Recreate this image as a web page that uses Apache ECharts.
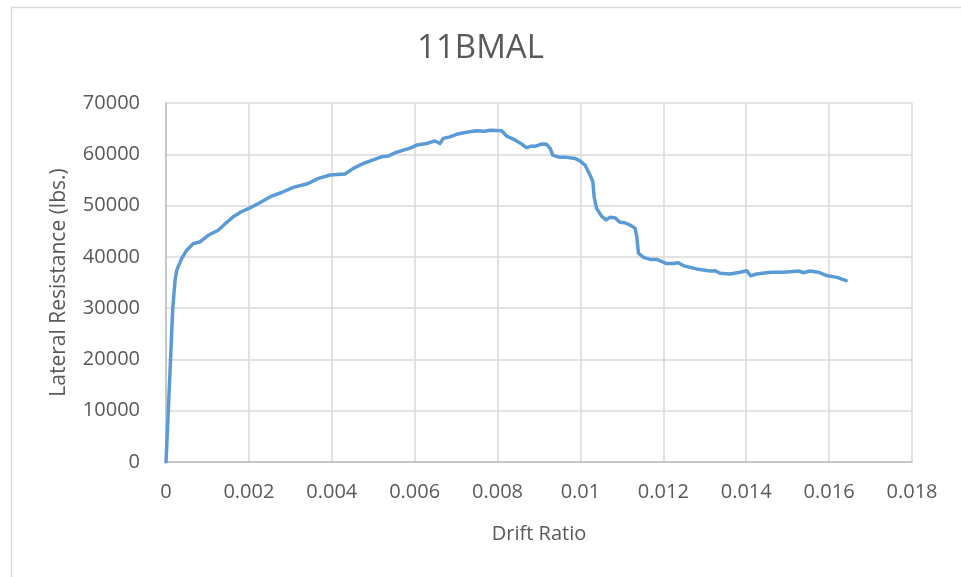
<!DOCTYPE html>
<html>
<head>
<meta charset="utf-8">
<script src="https://cdn.jsdelivr.net/npm/echarts@6/dist/echarts.min.js"></script>
<style>html,body{margin:0;padding:0;background:#fff;}#c{width:961px;height:577px;}</style>
</head>
<body>
<div id="c"></div>
<script>
const chartTitle = "11BMAL";
const xAxisName = "Drift Ratio";
const yAxisName = "Lateral Resistance (lbs.)";
const xTicks = [0, 0.002, 0.004, 0.006, 0.008, 0.01, 0.012, 0.014, 0.016, 0.018];
const yTicks = [0, 10000, 20000, 30000, 40000, 50000, 60000, 70000];

const drift = [0, 0.000056, 0.00011, 0.00016, 0.00022, 0.00026, 0.00038, 0.0005, 0.00066, 0.00082, 0.00102, 0.00126, 0.00142, 0.00162, 0.00182, 0.002, 0.00223, 0.00255, 0.00279, 0.00307, 0.00343, 0.00368, 0.00396, 0.00432, 0.00452, 0.00476, 0.005, 0.0052, 0.00536, 0.00553, 0.00569, 0.00589, 0.00605, 0.00629, 0.00649, 0.00661, 0.00669, 0.00685, 0.00701, 0.00725, 0.00749, 0.00769, 0.00782, 0.0081, 0.00822, 0.00842, 0.00858, 0.0087, 0.00882, 0.0089, 0.00906, 0.00918, 0.00927, 0.00933, 0.0095, 0.00967, 0.00987, 0.00999, 0.01011, 0.01023, 0.0103, 0.01033, 0.01039, 0.01051, 0.01062, 0.01071, 0.01083, 0.01095, 0.01107, 0.0112, 0.01132, 0.01136, 0.0114, 0.01152, 0.01168, 0.01184, 0.01208, 0.01224, 0.01236, 0.01248, 0.0128, 0.01313, 0.01325, 0.01337, 0.01361, 0.01385, 0.01401, 0.01411, 0.01425, 0.01458, 0.0149, 0.01526, 0.01538, 0.01554, 0.01574, 0.01594, 0.01619, 0.01641];
const resistance = [0, 10100, 20000, 29600, 35500, 37400, 39700, 41300, 42600, 42900, 44200, 45200, 46400, 47800, 48800, 49450, 50400, 51850, 52550, 53550, 54300, 55300, 55950, 56150, 57250, 58200, 58900, 59500, 59650, 60300, 60700, 61200, 61800, 62100, 62600, 62100, 63100, 63400, 63900, 64300, 64600, 64500, 64700, 64600, 63550, 62800, 62000, 61300, 61600, 61550, 62000, 61950, 61150, 59850, 59400, 59400, 59200, 58700, 57900, 55950, 54650, 51700, 49450, 47950, 47200, 47700, 47650, 46750, 46650, 46200, 45550, 43900, 40700, 39900, 39500, 39500, 38700, 38700, 38850, 38300, 37650, 37250, 37300, 36800, 36650, 37000, 37300, 36300, 36650, 37000, 37000, 37250, 36900, 37250, 37000, 36350, 36000, 35350];

const FONT = "'Open Sans', 'Noto Sans', sans-serif";
const TXT = '#595959';

const chart = echarts.init(document.getElementById('c'), null, {renderer: 'canvas'});
chart.setOption({
  animation: false,
  backgroundColor: '#ffffff',
  graphic: [{
    type: 'rect', left: 9, top: 5, z: -1,
    shape: {width: 1000, height: 600},
    style: {fill: 'none', stroke: '#D9D9D9', lineWidth: 1.5}
  }],
  title: {
    text: chartTitle, left: 'center', top: 27,
    textStyle: {fontFamily: FONT, fontSize: 33, fontWeight: 'normal', color: TXT}
  },
  grid: {left: 166, right: 49, top: 103, bottom: 115, containLabel: false},
  xAxis: {
    type: 'value', min: xTicks[0], max: xTicks[xTicks.length - 1], interval: 0.002,
    name: xAxisName, nameLocation: 'middle', nameGap: 62,
    nameTextStyle: {fontFamily: FONT, fontSize: 20, color: TXT},
    axisLine: {show: true, lineStyle: {color: '#BFBFBF', width: 1.5}},
    axisTick: {show: false},
    splitLine: {show: true, lineStyle: {color: '#D9D9D9', width: 1.5}},
    axisLabel: {
      fontFamily: FONT, fontSize: 20, color: TXT, margin: 20,
      formatter: v => String(+v.toFixed(3))
    }
  },
  yAxis: {
    type: 'value', min: yTicks[0], max: yTicks[yTicks.length - 1], interval: 10000,
    name: yAxisName, nameLocation: 'middle', nameGap: 96,
    nameTextStyle: {fontFamily: FONT, fontSize: 21, color: TXT},
    axisLine: {show: true, lineStyle: {color: '#BFBFBF', width: 1.5}},
    axisTick: {show: false},
    splitLine: {show: true, lineStyle: {color: '#D9D9D9', width: 1.5}},
    axisLabel: {fontFamily: FONT, fontSize: 20, color: TXT, margin: 26, formatter: v => String(v)}
  },
  series: [{
    type: 'line',
    data: drift.map((d, i) => [d, resistance[i]]),
    showSymbol: false,
    smooth: false,
    lineStyle: {color: '#5B9BD5', width: 3.5, join: 'round', cap: 'round'},
    itemStyle: {color: '#5B9BD5'}
  }]
});
</script>
</body>
</html>
